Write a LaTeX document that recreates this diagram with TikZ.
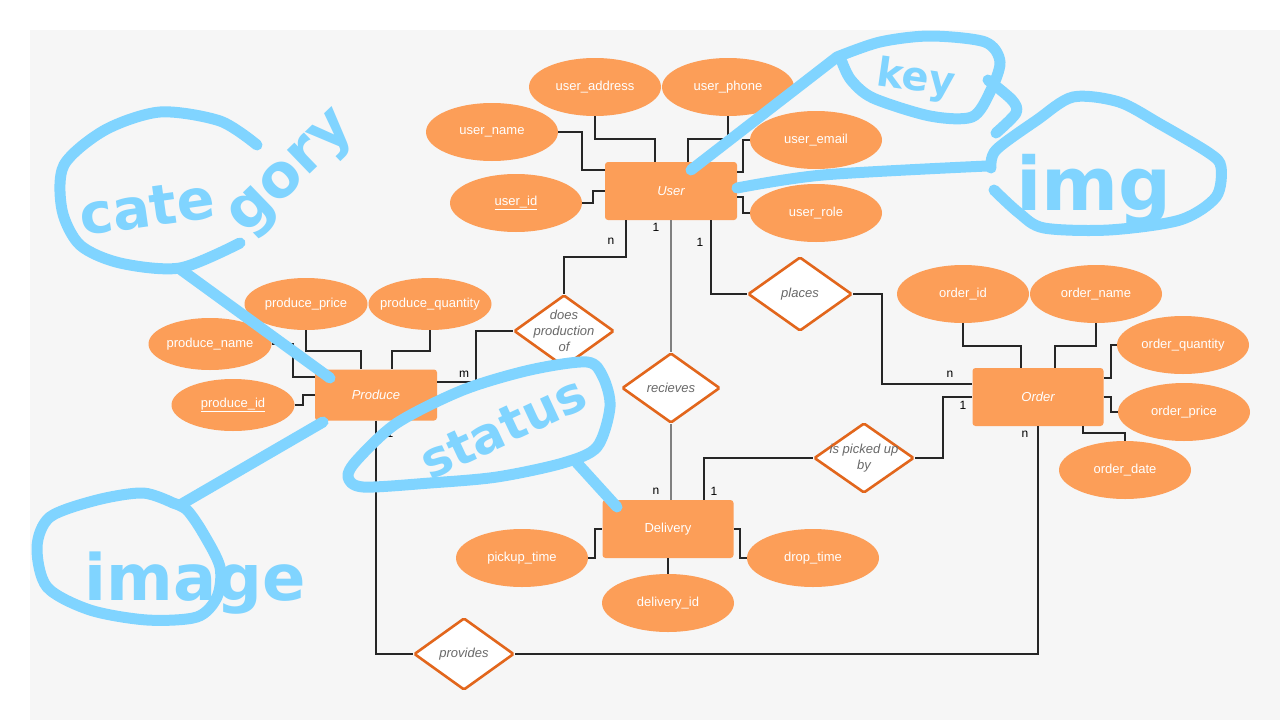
\documentclass[tikz,border=0pt]{standalone}
\usepackage{fontspec}
\setmainfont{Liberation Sans}
\newfontfamily\handfont{DejaVu Sans}
\usetikzlibrary{shapes.geometric}
\definecolor{bgc}{RGB}{246,246,246}
\definecolor{orf}{RGB}{252,158,88}
\definecolor{ordk}{RGB}{226,102,28}
\definecolor{skyb}{RGB}{128,212,255}
\definecolor{reltxt}{RGB}{105,105,105}
\newcommand\attrtxt[1]{\makebox[0pt]{#1}}
\tikzset{
  ent/.style={rectangle, rounded corners=3pt, fill=orf, text=white, font=\fontsize{13}{15}\selectfont, inner sep=0},
  attr/.style={ellipse, fill=orf, text=white, font=\fontsize{13}{15}\selectfont, inner sep=0, minimum width=132pt, minimum height=58pt},
  pattr/.style={attr, minimum width=123pt, minimum height=52pt},
  rel/.style={diamond, draw=ordk, line width=2.6pt, fill=white, inner sep=0, rounded corners=1.5pt},
  reltext/.style={text=reltxt, font=\fontsize{13}{16}\selectfont\itshape, align=center, inner sep=0},
  conn/.style={line width=1.3pt, draw=black!85},
  gconn/.style={line width=1.3pt, draw=black!50},
  card/.style={font=\fontsize{12}{14}\selectfont, inner sep=0},
  hand/.style={draw=skyb, line width=11pt, line cap=round, line join=round},
  handtxt/.style={text=skyb, inner sep=0}
}
\begin{document}
\begin{tikzpicture}[x=1pt,y=-1pt]
\useasboundingbox (0,0) rectangle (1280,720);
\fill[white] (0,0) rectangle (1280,720);
\fill[bgc] (30,30) rectangle (1280,720);

% entities
\node[ent, minimum width=132pt, minimum height=58pt] (user) at (671,191) {\itshape User};
\node[ent, minimum width=122pt, minimum height=51pt] (produce) at (376,395) {\itshape Produce};
\node[ent, minimum width=131pt, minimum height=58pt] (order) at (1038,397) {\itshape Order};
\node[ent, minimum width=131pt, minimum height=58pt] (delivery) at (668,529) {Delivery};

% user attributes
\node[attr] (uaddr) at (595,87) {\attrtxt{user\_address}};
\node[attr] (uphone) at (728,87) {\attrtxt{user\_phone}};
\node[attr] (uname) at (492,132) {\attrtxt{user\_name}};
\node[attr] (uemail) at (816,140) {\attrtxt{user\_email}};
\node[attr] (uid) at (516,203) {\attrtxt{\underline{user\_id}}};
\node[attr] (urole) at (816,213) {\attrtxt{user\_role}};

% produce attributes
\node[pattr] (pprice) at (306,304) {\attrtxt{produce\_price}};
\node[pattr] (pqty) at (430,304) {\attrtxt{produce\_quantity}};
\node[pattr] (pname) at (210,344) {\attrtxt{produce\_name}};
\node[pattr] (pid) at (233,405) {\attrtxt{\underline{produce\_id}}};

% order attributes
\node[attr] (oid) at (963,294) {\attrtxt{order\_id}};
\node[attr] (oname) at (1096,294) {\attrtxt{order\_name}};
\node[attr] (oqty) at (1183,345) {\attrtxt{order\_quantity}};
\node[attr] (oprice) at (1184,412) {\attrtxt{order\_price}};
\node[attr] (odate) at (1125,470) {\attrtxt{order\_date}};

% delivery attributes
\node[attr] (pickup) at (522,558) {\attrtxt{pickup\_time}};
\node[attr] (drop) at (813,558) {\attrtxt{drop\_time}};
\node[attr] (delid) at (668,603) {\attrtxt{delivery\_id}};

% attribute connectors
\draw[conn] (uname.east) -- (582,132) -- (582,170) -- (user.west |- 0,170);
\draw[conn] (uaddr.south) -- (595,139) -- (655,139) -- (user.north -| 655,0);
\draw[conn] (uphone.south) -- (728,139) -- (688,139) -- (user.north -| 688,0);
\draw[conn] (uemail.west) -- (743,140) -- (743,172) -- (user.east |- 0,172);
\draw[conn] (urole.west) -- (743,213) -- (743,197) -- (user.east |- 0,197);
\draw[conn] (uid.east) -- (593,203) -- (593,191) -- (user.west);

\draw[conn] (pprice.south) -- (306,351) -- (361,351) -- (produce.north -| 361,0);
\draw[conn] (pqty.south) -- (430,351) -- (392,351) -- (produce.north -| 392,0);
\draw[conn] (pname.east) -- (293,344) -- (293,377) -- (produce.west |- 0,377);
\draw[conn] (pid.east) -- (303,405) -- (303,395) -- (produce.west);

\draw[conn] (oid.south) -- (963,346) -- (1021,346) -- (order.north -| 1021,0);
\draw[conn] (oname.south) -- (1096,346) -- (1055,346) -- (order.north -| 1055,0);
\draw[conn] (oqty.west) -- (1111,345) -- (1111,378) -- (order.east |- 0,378);
\draw[conn] (order.east) -- (1111,397) -- (1111,412) -- (oprice.west);
\draw[conn] (order.south -| 1083,0) -- (1083,433) -- (1125,433) -- (odate.north);

\draw[conn] (pickup.east) -- (595,558) -- (595,529) -- (delivery.west);
\draw[conn] (delivery.east) -- (740,529) -- (740,558) -- (drop.west);
\draw[conn] (delivery.south) -- (delid.north);

% relationships
\node[rel, minimum width=100pt, minimum height=72pt] (dpo) at (564,331) {};
\node[rel, minimum width=98pt, minimum height=70pt] (rec) at (671,388) {};
\node[rel, minimum width=104pt, minimum height=74pt] (places) at (800,294) {};
\node[rel, minimum width=100pt, minimum height=70pt] (picked) at (864,458) {};
\node[rel, minimum width=100pt, minimum height=72pt] (provides) at (464,654) {};

\node[reltext] (dpot) at (dpo.center) {does\\production\\of};
\node[reltext] (rect) at (rec.center) {recieves};
\node[reltext] (placest) at (places.center) {places};
\node[reltext] (pickedt) at (picked.center) {is picked up\\by};
\node[reltext] (providest) at (provides.center) {provides};

% relationship connectors
\draw[conn] (user.south -| 626,0) -- (626,257) -- (564,257) -- (dpo.north);
\draw[gconn] (user.south) -- (rec.north);
\draw[conn] (user.south -| 711,0) -- (711,294) -- (places.west);
\draw[conn] (places.east) -- (882,294) -- (882,384) -- (order.west |- 0,384);
\draw[conn] (picked.east) -- (943,458) -- (943,397) -- (order.west);
\draw[conn] (picked.west) -- (704,458) -- (delivery.north -| 704,0);
\draw[gconn] (rec.south) -- (delivery.north -| rec.south);
\draw[conn] (produce.east |- 0,382) -- (476,382) -- (476,331) -- (dpo.west);
\draw[conn] (produce.south) -- (376,654) -- (provides.west);
\draw[conn] (provides.east) -- (1038,654) -- (order.south);

% cardinalities
\node[card] (c1) at (611,241) {n};
\node[card] (c2) at (656,227) {1};
\node[card] (c3) at (700,242) {1};
\node[card] (c4) at (950,374) {n};
\node[card] (c5) at (963,405) {1};
\node[card] (c6) at (1025,434) {n};
\node[card] (c7) at (714,491) {1};
\node[card] (c8) at (656,491) {n};
\node[card] (c9) at (464,374) {m};
\node[card] (c10) at (390,433) {1};

% handwritten annotations
\draw[hand] plot[smooth] coordinates {(257,145) (220,121) (160,112) (105,130) (64,165) (62,210) (80,245) (120,263) (180,268) (240,243)};
\draw[hand] (180,269) -- (330,378);
\node[handtxt, font=\handfont\bfseries\fontsize{56}{56}\selectfont, rotate=8, anchor=base west] (hcat) at (82,236) {cate};
\node[handtxt, font=\handfont\bfseries\fontsize{60}{60}\selectfont, rotate=44, anchor=base west] (hgory) at (246,236) {gory};

\draw[hand] (691,170) -- (837,57);
\draw[hand] plot[smooth] coordinates {(837,57) (880,42) (930,36) (985,42) (1000,62) (990,92) (972,117) (930,116) (873,98) (851,80) (842,62)};
\draw[hand] plot[smooth] coordinates {(988,80) (1012,100) (1016,113) (996,133)};
\node[handtxt, font=\handfont\bfseries\fontsize{40}{40}\selectfont, rotate=-8] (hkey) at (916,80) {key};

\draw[hand] plot[smooth] coordinates {(737,188) (823,175) (987,166)};
\draw[hand] plot[smooth] coordinates {(994,190) (1019,213) (1044,228) (1109,230) (1180,220) (1216,197) (1221,167) (1209,153) (1160,124) (1119,102) (1073,97) (1037,120) (996,150) (991,168)};
\node[handtxt, font=\handfont\bfseries\fontsize{74}{74}\selectfont, anchor=base] (himg) at (1094,210) {img};

\draw[hand] (323,422) -- (180,505);
\draw[hand] plot[smooth] coordinates {(173,503) (143,493) (97,500) (50,517) (37,547) (47,587) (90,610) (147,620) (197,617) (217,597) (220,567) (203,533) (187,510) (173,503)};
\node[handtxt, font=\handfont\bfseries\fontsize{64}{64}\selectfont, anchor=base] (himage) at (195,600) {image};

\draw[hand] plot[smooth cycle] coordinates {(587,362) (603,377) (610,407) (597,447) (563,463) (497,477) (430,483) (363,487) (348,477) (357,460) (397,423) (463,390) (530,370)};
\draw[hand] (577,463) -- (617,507);
\node[handtxt, font=\handfont\bfseries\fontsize{50}{50}\selectfont, rotate=25] (hstat) at (503,428) {status};
\end{tikzpicture}
\end{document}
